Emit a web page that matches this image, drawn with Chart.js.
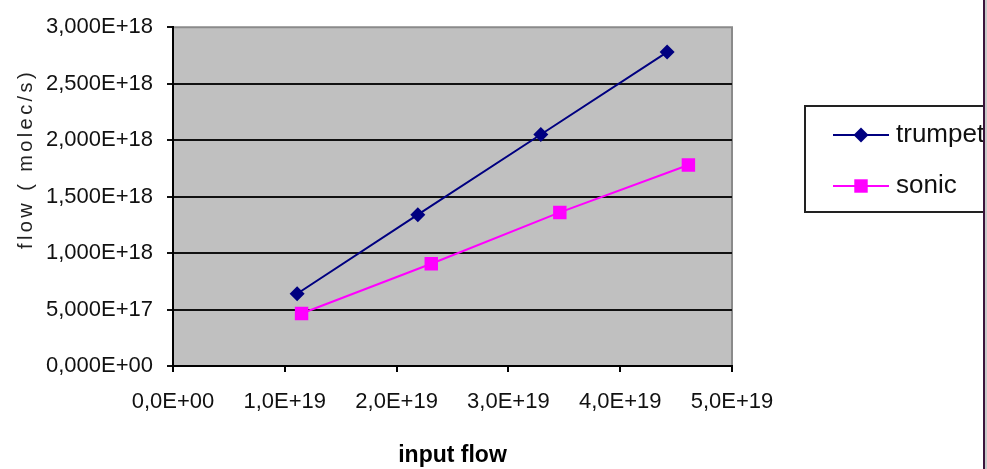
<!DOCTYPE html>
<html><head><meta charset="utf-8">
<script src="https://cdn.jsdelivr.net/npm/chart.js@4"></script>
<style>html,body{margin:0;padding:0;background:#fff;overflow:hidden}#wrap{width:987px;height:469px;position:relative}</style>
</head><body><div id="wrap"><canvas id="c" width="987" height="469"></canvas></div>
<script>
const seriesNames = ['trumpet', 'sonic'];
const trumpetX = [1.11e19, 2.19e19, 3.29e19, 4.42e19];
const trumpetY = [6.4e17, 1.34e18, 2.05e18, 2.78e18];
const sonicX = [1.15e19, 2.31e19, 3.46e19, 4.61e19];
const sonicY = [4.65e17, 9.05e17, 1.36e18, 1.78e18];
const xTickValues = [0, 1e19, 2e19, 3e19, 4e19, 5e19];
const xTickLabels = ['0,0E+00', '1,0E+19', '2,0E+19', '3,0E+19', '4,0E+19', '5,0E+19'];
const yTickValues = [0, 5e17, 1e18, 1.5e18, 2e18, 2.5e18, 3e18];
const yTickLabels = ['0,000E+00', '5,000E+17', '1,000E+18', '1,500E+18', '2,000E+18', '2,500E+18', '3,000E+18'];
const xTitle = 'input flow';
const yTitle = 'flow ( molec/s)';

const FONT = '"Liberation Sans", Arial, sans-serif';

function pts(xs, ys) { return xs.map((x, i) => ({x: x, y: ys[i]})); }

const bgPlugin = {
  id: 'bg',
  beforeDraw(chart) {
    const {ctx, chartArea: a} = chart;
    ctx.save();
    ctx.fillStyle = '#fff';
    ctx.fillRect(0, 0, chart.width, chart.height);
    ctx.fillStyle = '#c0c0c0';
    ctx.fillRect(a.left, a.top, a.right - a.left, a.bottom - a.top);
    ctx.strokeStyle = '#8a8a8a';
    ctx.lineWidth = 2;
    ctx.beginPath();
    ctx.moveTo(a.left, a.top);
    ctx.lineTo(a.right, a.top);
    ctx.lineTo(a.right, a.bottom);
    ctx.stroke();
    ctx.restore();
  }
};

function drawMarker(ctx, style, x, y, r, color) {
  ctx.fillStyle = color;
  ctx.beginPath();
  if (style === 'rectRot') {
    ctx.moveTo(x - r, y); ctx.lineTo(x, y - r); ctx.lineTo(x + r, y); ctx.lineTo(x, y + r);
  } else {
    const s = Math.SQRT1_2 * r;
    ctx.rect(x - s, y - s, 2 * s, 2 * s);
  }
  ctx.closePath();
  ctx.fill();
}

const overlayPlugin = {
  id: 'overlay',
  afterDraw(chart) {
    const ctx = chart.ctx;
    ctx.save();
    // y axis title
    ctx.translate(26, 159);
    ctx.rotate(-Math.PI / 2);
    ctx.font = '20px ' + FONT;
    if ('letterSpacing' in ctx) ctx.letterSpacing = '3.4px';
    ctx.fillStyle = '#222';
    ctx.textAlign = 'center';
    ctx.textBaseline = 'middle';
    ctx.fillText(yTitle, 0, 0);
    ctx.restore();

    // legend
    ctx.save();
    ctx.fillStyle = '#fff';
    ctx.fillRect(804, 105, 183, 107);
    ctx.strokeStyle = '#222';
    ctx.lineWidth = 2;
    ctx.strokeRect(805, 106, 200, 106);
    chart.data.datasets.forEach((ds, i) => {
      const y = 135 + i * 51;
      ctx.strokeStyle = ds.borderColor;
      ctx.lineWidth = 2;
      ctx.beginPath();
      ctx.moveTo(833, y); ctx.lineTo(889, y);
      ctx.stroke();
      drawMarker(ctx, ds.pointStyle, 861, y, ds.pointRadius, ds.pointBackgroundColor);
      ctx.fillStyle = '#111';
      ctx.font = '26px ' + FONT;
      ctx.textAlign = 'left';
      ctx.textBaseline = 'middle';
      ctx.fillText(ds.label, 896, y);
    });
    // right edge line
    ctx.fillStyle = '#c8c8c8';
    ctx.fillRect(985, 0, 2, chart.height);
    ctx.strokeStyle = '#3c143c';
    ctx.lineWidth = 2;
    ctx.beginPath();
    ctx.moveTo(984, 0); ctx.lineTo(984, chart.height);
    ctx.stroke();
    ctx.restore();
  }
};

new Chart(document.getElementById('c'), {
  type: 'scatter',
  data: {
    datasets: [
      {
        label: seriesNames[0],
        data: pts(trumpetX, trumpetY),
        showLine: true,
        borderColor: '#000080',
        backgroundColor: '#000080',
        pointBackgroundColor: '#000080',
        pointBorderColor: '#000080',
        borderWidth: 2,
        pointStyle: 'rectRot',
        pointRadius: 7.5,
        pointBorderWidth: 0,
        tension: 0
      },
      {
        label: seriesNames[1],
        data: pts(sonicX, sonicY),
        showLine: true,
        borderColor: '#ff00ff',
        backgroundColor: '#ff00ff',
        pointBackgroundColor: '#ff00ff',
        pointBorderColor: '#ff00ff',
        borderWidth: 2,
        pointStyle: 'rect',
        pointRadius: 9.5,
        pointBorderWidth: 0,
        tension: 0
      }
    ]
  },
  options: {
    responsive: false,
    animation: false,
    devicePixelRatio: 1,
    layout: {padding: {left: 0, right: 255, top: 24, bottom: 0}},
    plugins: {legend: {display: false}, tooltip: {enabled: false}},
    scales: {
      x: {
        type: 'linear',
        min: 0, max: 5e19,
        afterBuildTicks(s) { s.ticks = xTickValues.map(v => ({value: v})); },
        afterFit(s) { s.height = 103; },
        ticks: {
          callback: (v, i) => xTickLabels[i],
          font: {size: 22, family: FONT},
          color: '#111',
          padding: 17,
          maxRotation: 0
        },
        grid: {drawOnChartArea: false, drawTicks: true, tickLength: 6, color: '#000', lineWidth: 2},
        border: {display: true, color: '#000', width: 2},
        title: {display: true, text: xTitle, font: {size: 23, weight: 'bold', family: FONT}, color: '#000', padding: {top: 0, bottom: 0}}
      },
      y: {
        type: 'linear',
        min: 0, max: 3e18,
        afterBuildTicks(s) { s.ticks = yTickValues.map(v => ({value: v})); },
        afterFit(s) { s.width = 173; },
        ticks: {
          callback: (v, i) => yTickLabels[i],
          font: {size: 22, family: FONT},
          color: '#111',
          padding: 14
        },
        grid: {
          drawOnChartArea: true, drawTicks: true, tickLength: 6, lineWidth: 2,
          color: (c) => (c.tick && c.tick.value === 3e18) ? 'rgba(0,0,0,0)' : '#111',
          tickColor: '#111'
        },
        border: {display: true, color: '#000', width: 2},
        title: {display: false}
      }
    }
  },
  plugins: [bgPlugin, overlayPlugin]
});
</script>
</body></html>
